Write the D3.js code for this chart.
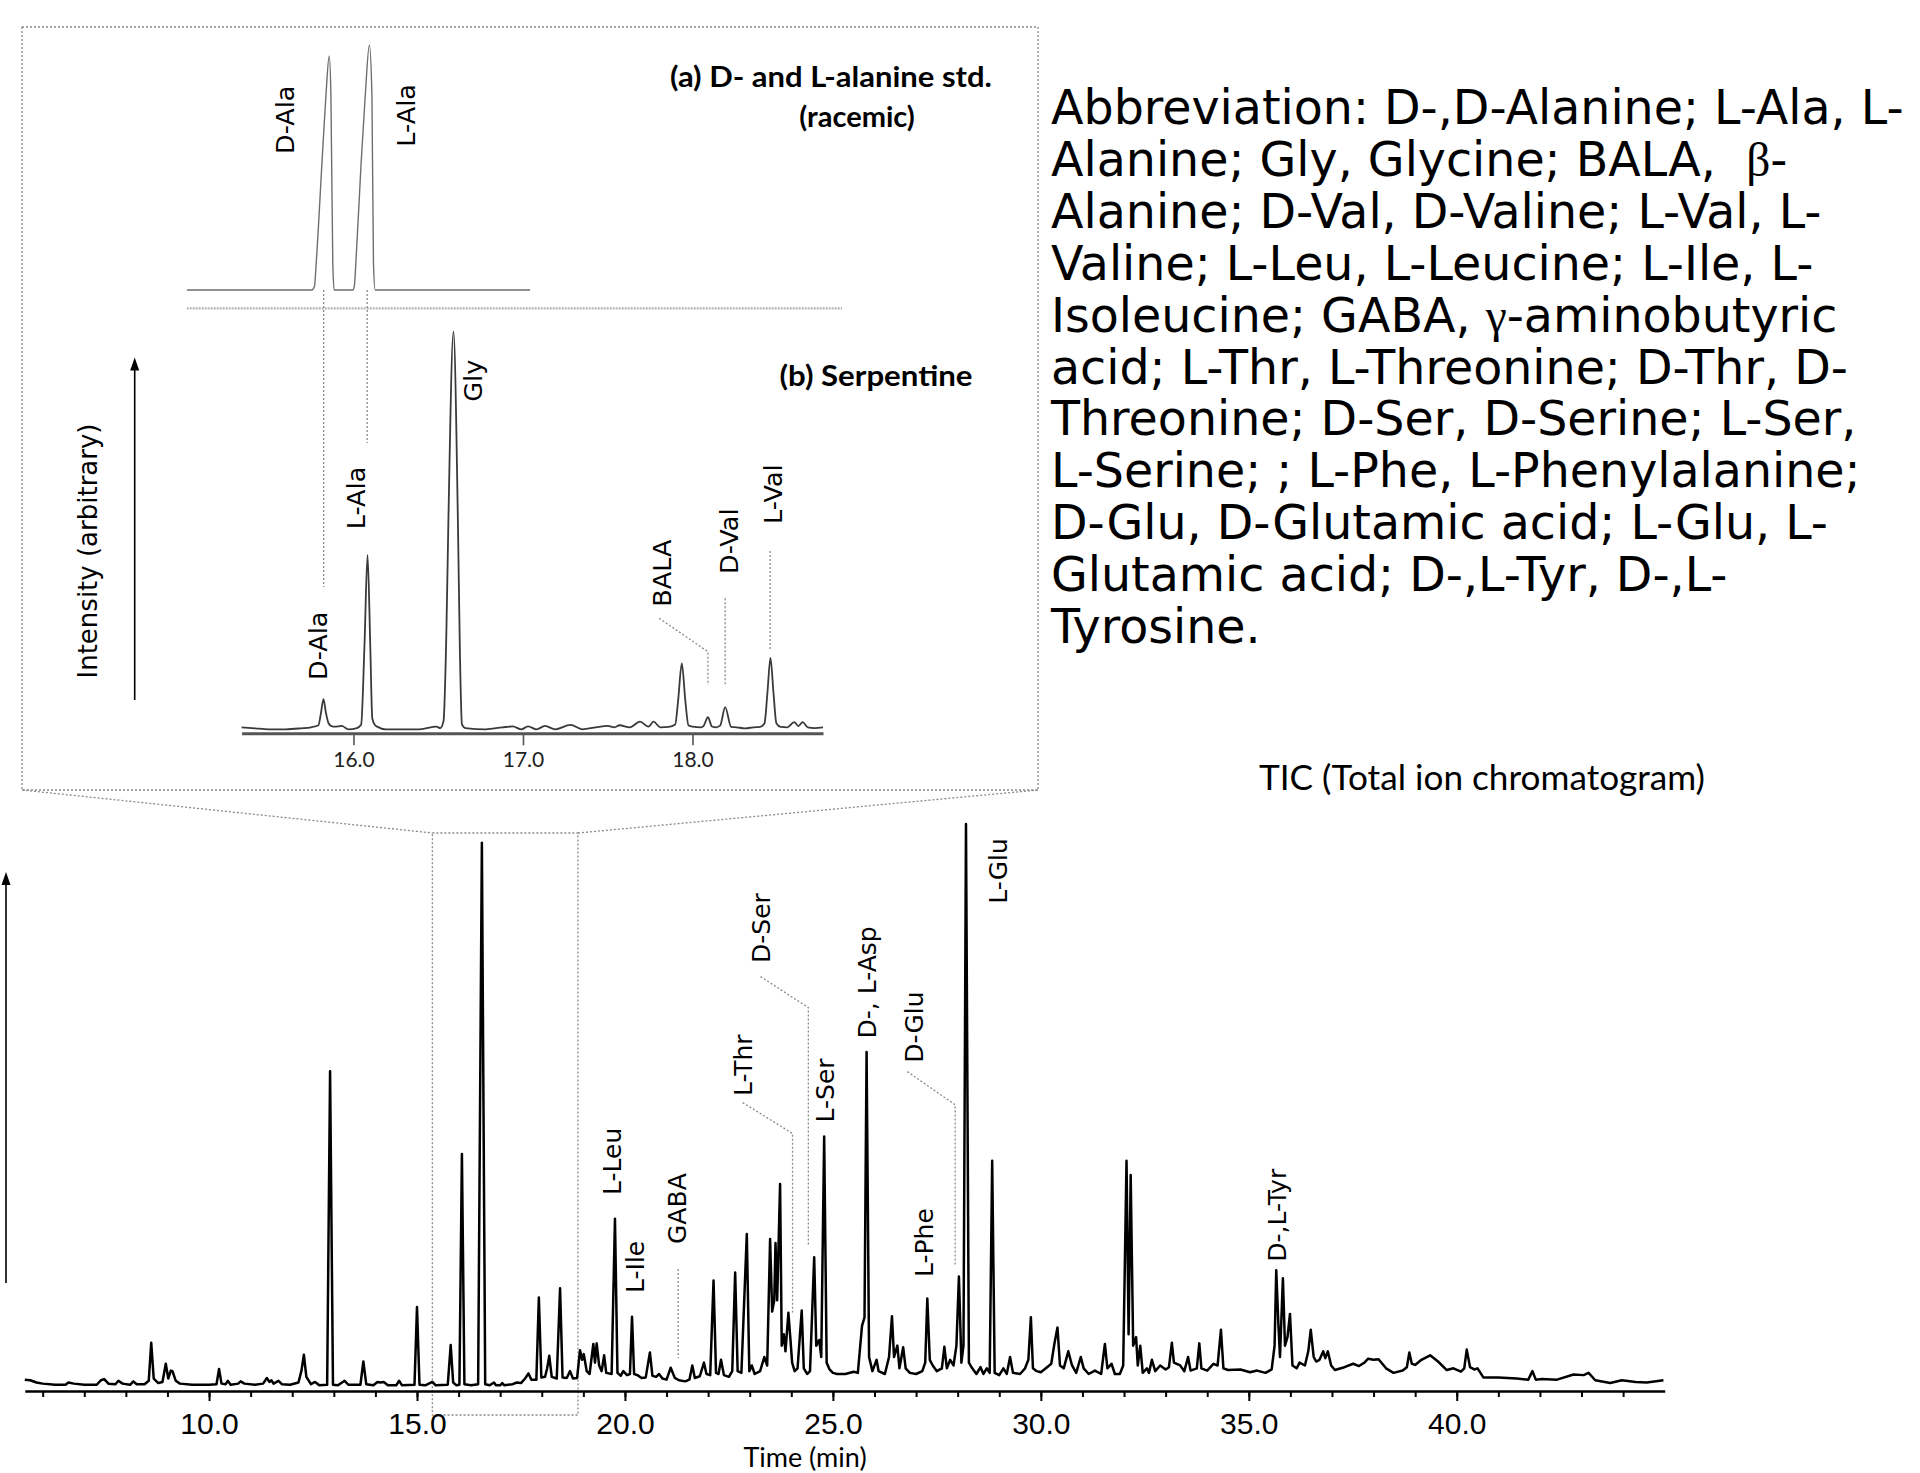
<!DOCTYPE html>
<html>
<head>
<meta charset="utf-8">
<script src="https://cdn.jsdelivr.net/npm/d3@7"></script>
<style>
  body { margin: 0; background: #fff; }
  svg { display: block; }
</style>
</head>
<body>
<script>
// ---- data ----
// TIC trace, [time (min), intensity (% of L-Glu peak)]
const ticTrace = [
  [5.57,2.0],[5.7,1.9],[5.85,1.5],[6.0,1.3],[6.3,1.1],[6.55,1.1],[6.62,1.5],[6.75,1.3],[7.0,1.1],[7.3,1.1],
  [7.4,1.9],[7.48,2.1],[7.58,1.3],[7.75,1.2],[7.82,1.8],[7.92,1.3],[8.1,1.1],[8.18,1.7],[8.26,1.2],[8.45,1.2],
  [8.55,1.8],[8.61,8.5],[8.67,2.2],[8.78,1.4],[8.88,1.6],[8.96,4.8],[9.02,2.2],[9.08,3.6],[9.12,3.5],[9.2,1.8],
  [9.3,1.3],[9.6,1.1],[10.0,1.1],[10.18,1.2],[10.24,3.9],[10.3,1.3],[10.4,1.2],[10.45,1.8],[10.52,1.1],[10.7,1.3],
  [10.76,1.7],[10.85,1.3],[11.1,1.1],[11.3,1.3],[11.39,2.3],[11.45,1.6],[11.5,1.9],[11.55,1.3],[11.67,1.8],[11.75,1.2],
  [11.95,1.1],[12.15,1.5],[12.22,3.5],[12.28,6.4],[12.34,2.5],[12.45,1.2],[12.55,1.6],[12.65,1.0],[12.84,1.1],[12.91,56.4],
  [12.98,1.1],[13.1,1.0],[13.26,1.8],[13.35,1.1],[13.64,1.1],[13.71,5.2],[13.78,1.2],[13.95,1.0],[14.05,1.6],[14.12,1.5],
  [14.2,1.6],[14.3,1.0],[14.5,1.0],[14.57,1.8],[14.64,1.0],[14.94,1.1],[15.0,14.8],[15.06,1.1],[15.2,1.0],[15.37,1.6],
  [15.45,1.0],[15.74,1.1],[15.81,8.1],[15.87,1.5],[15.95,1.0],[16.02,1.1],[16.08,41.8],[16.14,1.2],[16.3,1.0],[16.47,1.2],
  [16.56,96.7],[16.64,1.2],[16.75,1.0],[16.85,1.5],[16.9,1.0],[17.0,1.0],[17.05,1.4],[17.1,1.0],[17.3,1.2],[17.4,1.5],
  [17.5,1.4],[17.6,2.2],[17.68,3.1],[17.75,2.0],[17.87,2.0],[17.93,16.5],[17.99,2.4],[18.08,2.5],[18.13,4.0],[18.18,6.2],
  [18.24,2.5],[18.36,2.2],[18.44,18.1],[18.5,2.4],[18.6,2.3],[18.68,3.5],[18.75,2.2],[18.85,2.3],[18.92,7.2],[18.97,5.5],
  [19.01,6.5],[19.08,3.5],[19.15,3.0],[19.24,8.3],[19.28,5.0],[19.32,8.4],[19.38,4.5],[19.44,3.5],[19.5,6.3],[19.55,3.2],
  [19.68,3.0],[19.76,30.4],[19.82,3.2],[19.9,2.7],[19.96,3.5],[20.05,2.8],[20.12,3.0],[20.17,13.1],[20.22,3.0],[20.3,2.8],
  [20.4,2.3],[20.5,2.4],[20.6,6.8],[20.66,2.7],[20.75,2.5],[20.82,3.0],[20.9,2.2],[21.0,2.0],[21.1,4.1],[21.2,2.3],
  [21.3,1.9],[21.45,1.7],[21.55,2.0],[21.62,4.5],[21.68,2.3],[21.8,2.6],[21.9,5.0],[21.96,3.0],[22.05,2.8],[22.13,19.5],
  [22.19,3.2],[22.25,3.0],[22.31,5.5],[22.38,2.8],[22.5,2.5],[22.58,3.5],[22.65,20.9],[22.71,3.5],[22.8,3.2],[22.93,27.7],
  [22.99,3.5],[23.05,4.5],[23.12,3.0],[23.25,3.5],[23.35,6.0],[23.42,4.5],[23.49,26.8],[23.54,14],[23.59,16],[23.62,26.1],
  [23.66,16],[23.73,36.5],[23.77,8],[23.82,10],[23.86,7],[23.93,13.8],[23.98,9],[24.02,5],[24.08,3.5],[24.15,4],
  [24.25,14.2],[24.3,4],[24.38,3],[24.45,3.5],[24.55,23.6],[24.6,8],[24.67,9],[24.72,6],[24.79,44.9],[24.85,5],
  [24.92,3.8],[25.0,3.2],[25.1,3.0],[25.3,3.0],[25.5,3.4],[25.6,3.2],[25.7,11.5],[25.76,13],[25.81,59.8],[25.87,6],
  [25.95,3.5],[26.05,5.5],[26.1,3.5],[26.25,3.0],[26.35,6],[26.42,13.2],[26.47,6],[26.55,8],[26.6,4],[26.69,7.7],
  [26.75,4],[26.85,3.2],[27.0,3.0],[27.15,3.5],[27.22,5],[27.27,16.3],[27.33,5.5],[27.4,4.5],[27.5,3.5],[27.62,4],
  [27.68,7.8],[27.74,4],[27.82,5.5],[27.9,4.5],[27.97,8],[28.03,20.2],[28.09,5],[28.14,8],[28.2,100],[28.27,5],
  [28.35,4],[28.45,3.0],[28.55,4.2],[28.62,3],[28.7,4],[28.77,3.2],[28.83,40.6],[28.89,3.2],[29.0,2.8],[29.1,4.0],
  [29.18,3.0],[29.26,6.0],[29.33,3.2],[29.5,3.0],[29.62,4.0],[29.7,5.5],[29.76,13.0],[29.81,4.0],[29.9,3.5],[30.0,3.3],
  [30.15,4.2],[30.25,4.8],[30.33,8.5],[30.4,11.2],[30.46,4.5],[30.55,4.0],[30.66,7.0],[30.75,4.5],[30.85,3.2],[30.96,6.0],
  [31.03,4.0],[31.15,3.0],[31.3,3.6],[31.45,3.0],[31.54,8.3],[31.6,4.0],[31.7,4.8],[31.78,3.0],[31.9,3.0],[31.98,4.5],
  [32.06,40.6],[32.11,10],[32.16,38.1],[32.22,8],[32.29,9.5],[32.33,4.5],[32.39,8.0],[32.45,3.2],[32.55,4.0],[32.6,3.2],
  [32.67,5.5],[32.75,3.5],[32.87,4.5],[33.0,3.8],[33.08,4.2],[33.15,8.5],[33.2,5.0],[33.35,4.5],[33.45,3.5],[33.54,6.0],
  [33.6,3.6],[33.75,4.0],[33.81,8.4],[33.86,4.0],[34.0,3.6],[34.15,4.8],[34.25,4.5],[34.33,10.8],[34.39,4.0],[34.5,3.7],
  [34.8,3.8],[35.03,3.3],[35.2,3.6],[35.4,3.2],[35.55,3.8],[35.62,8],[35.66,21.3],[35.71,12],[35.75,6],[35.82,19.9],
  [35.87,8],[35.93,9.5],[35.99,13.6],[36.05,4.5],[36.15,4.0],[36.22,5.0],[36.35,4.5],[36.43,7.0],[36.49,10.8],[36.56,6.0],
  [36.62,5.2],[36.7,5.5],[36.79,7.0],[36.84,5.8],[36.9,7.0],[36.98,4.5],[37.07,3.7],[37.3,4.2],[37.51,4.8],[37.65,4.4],
  [37.78,5.0],[37.87,5.7],[38.0,5.5],[38.12,5.6],[38.3,4.0],[38.48,3.2],[38.7,3.6],[38.8,4.2],[38.86,6.8],[38.92,4.8],
  [39.0,4.6],[39.15,5.5],[39.36,6.3],[39.55,5.2],[39.76,3.7],[39.92,4.0],[40.1,3.4],[40.18,4.0],[40.24,7.3],[40.32,4.2],
  [40.42,3.8],[40.5,4.0],[40.64,2.4],[41.0,2.4],[41.44,2.2],[41.72,2.0],[41.82,3.5],[41.9,2.0],[42.05,2.1],[42.41,2.0],
  [42.81,2.9],[43.05,2.8],[43.17,3.2],[43.33,1.9],[43.69,1.4],[43.97,1.9],[44.3,1.6],[44.57,1.5],[44.97,1.9]
];

// inset (b) serpentine trace, [time, intensity (% of Gly)]
const serpTrace = [
  [15.34,1.5],[15.42,1.24],[15.5,1.0],[15.6,1.0],[15.69,1.24],[15.75,1.5],[15.793,2.0],[15.808,5],[15.823,8.5],[15.838,5],
  [15.853,2.5],[15.87,1.8],[15.89,1.66],[15.93,1.83],[15.97,1.0],[16.02,1.3],[16.045,2.1],[16.065,22],[16.083,44.4],[16.099,22],
  [16.111,3.7],[16.128,2.0],[16.14,1.66],[16.19,1.0],[16.29,1.0],[16.39,1.0],[16.49,1.66],[16.512,1.3],[16.531,3],[16.548,25],
  [16.56,53],[16.59,100],[16.616,53],[16.628,20],[16.64,2.2],[16.66,1.3],[16.78,1.0],[16.88,1.5],[16.94,1.7],[16.99,1.0],
  [17.03,1.7],[17.08,1.0],[17.13,1.83],[17.19,1.0],[17.28,2.1],[17.35,1.0],[17.43,1.5],[17.5,1.83],[17.54,1.5],[17.57,2.0],
  [17.63,1.5],[17.69,2.9],[17.74,1.66],[17.77,2.9],[17.81,1.5],[17.86,1.6],[17.898,2.2],[17.915,8],[17.937,17.4],[17.958,8],
  [17.976,2.0],[18.0,1.66],[18.05,1.5],[18.065,1.8],[18.091,4.0],[18.115,1.7],[18.14,1.5],[18.163,1.9],[18.193,6.5],[18.228,1.6],
  [18.26,1.5],[18.31,1.24],[18.36,1.5],[18.4,1.6],[18.425,2.5],[18.442,10],[18.46,18.8],[18.478,10],[18.495,2.5],[18.52,1.6],
  [18.56,1.5],[18.6,2.8],[18.625,1.8],[18.65,2.8],[18.68,1.5],[18.72,1.3],[18.77,1.5]
];

// inset (a) racemic alanine standard, [time, intensity (% of L-Ala)]
const stdTrace = [
  [15.017,0],[15.755,0],[15.77,1.5],[15.78,10.9],[15.814,51.7],[15.837,78.9],[15.857,95.5],[15.867,78.9],[15.878,10.9],[15.886,0],
  [15.996,0],[16.005,1.5],[16.014,10.9],[16.045,51.7],[16.069,78.9],[16.094,100],[16.109,78.9],[16.118,10.9],[16.128,0],[17.042,0]
];

const ticMajorTicks = [10, 15, 20, 25, 30, 35, 40];
const insetTicks = [16, 17, 18];
const zoomWindow = [15.37, 18.87];

// peak labels: name, time of label centre
const ticLabels = [
  ["L-Leu", 19.70], ["L-Ile", 20.24], ["GABA", 21.26], ["L-Thr", 22.83], ["D-Ser", 23.26],
  ["L-Ser", 24.81], ["D-, L-Asp", 25.82], ["D-Glu", 26.96], ["L-Phe", 27.19], ["L-Glu", 28.98], ["D-,L-Tyr", 35.68]
];
const serpLabels = [
  ["D-Ala", 15.788], ["L-Ala", 16.014], ["Gly", 16.702], ["BALA", 17.819], ["D-Val", 18.212], ["L-Val", 18.474]
];
const stdLabels = [["D-Ala", 15.595], ["L-Ala", 16.311]];

const abbrevLines = [
  "Abbreviation: D-,D-Alanine; L-Ala, L-",
  "Alanine; Gly, Glycine; BALA,\u00a0 \u03b2-",
  "Alanine; D-Val, D-Valine; L-Val, L-",
  "Valine; L-Leu, L-Leucine; L-Ile, L-",
  "Isoleucine; GABA, \u03b3-aminobutyric",
  "acid; L-Thr, L-Threonine; D-Thr, D-",
  "Threonine; D-Ser, D-Serine; L-Ser,",
  "L-Serine; ; L-Phe, L-Phenylalanine;",
  "D-Glu, D-Glutamic acid; L-Glu, L-",
  "Glutamic acid; D-,L-Tyr, D-,L-",
  "Tyrosine."
];

// ---- layout ----
const W = 1920, H = 1473;
const svg = d3.select("body").append("svg").attr("width", W).attr("height", H);
svg.append("rect").attr("width", W).attr("height", H).attr("fill", "#fff");

const x = d3.scaleLinear().domain([5.57, 45.0]).range([24.8, 1664.7]);
const y = d3.scaleLinear().domain([0, 100]).range([1391, 824]);
const xi = d3.scaleLinear().domain([15.34, 18.77]).range([241.6, 823.0]);
const yi = d3.scaleLinear().domain([0, 100]).range([733.3, 331.7]);
const ya = d3.scaleLinear().domain([0, 100]).range([290, 45]);

const dotted = g => g.attr("fill", "none").attr("stroke", "#8a8a8a").attr("stroke-width", 1.3).attr("stroke-dasharray", "2,2");

function vlabel(g, cx, yStart, txt, size) {
  g.append("text")
    .attr("transform", `translate(${cx},${yStart}) rotate(-90)`)
    .attr("dy", "0.36em")
    .attr("font-family", "DejaVu Sans")
    .attr("font-size", size)
    .attr("fill", "#000")
    .text(txt);
}
function arrow(g, ax, y0, y1) {
  g.append("line").attr("x1", ax).attr("x2", ax).attr("y1", y0).attr("y2", y1 + 4)
    .attr("stroke", "#000").attr("stroke-width", 1.6);
  g.append("path").attr("d", `M${ax - 4.5},${y1 + 13} L${ax},${y1} L${ax + 4.5},${y1 + 13} Z`).attr("fill", "#000");
}

// ---- inset frame and zoom connectors ----
const frame = svg.append("g");
frame.append("rect").attr("x", 22).attr("y", 27).attr("width", 1016).attr("height", 763).call(dotted);
frame.append("rect").attr("x", x(zoomWindow[0])).attr("y", 833)
  .attr("width", x(zoomWindow[1]) - x(zoomWindow[0])).attr("height", 582).call(dotted);
frame.append("line").attr("x1", 22).attr("y1", 790).attr("x2", x(zoomWindow[0])).attr("y2", 833).call(dotted);
frame.append("line").attr("x1", 1038).attr("y1", 790).attr("x2", x(zoomWindow[1])).attr("y2", 833).call(dotted);

// ---- inset (a) standard ----
const ga = svg.append("g");
ga.append("line").attr("x1", 186.7).attr("x2", 842).attr("y1", 308.3).attr("y2", 308.3)
  .attr("stroke", "#b5b5b5").attr("stroke-width", 2.2).attr("stroke-dasharray", "2,1");
ga.append("path").datum(stdTrace)
  .attr("d", d3.line().x(d => xi(d[0])).y(d => ya(d[1])).curve(d3.curveMonotoneX))
  .attr("fill", "none").attr("stroke", "#6e6e6e").attr("stroke-width", 1.4);
stdLabels.forEach(d => vlabel(ga, xi(d[1]), d[0] === "D-Ala" ? 154 : 146.7, d[0], 25.5));
// leaders from the standard down into (b)
ga.append("line").attr("x1", xi(15.824)).attr("x2", xi(15.824)).attr("y1", 290).attr("y2", 587).call(dotted);
ga.append("line").attr("x1", xi(16.081)).attr("x2", xi(16.081)).attr("y1", 290).attr("y2", 443).call(dotted);
ga.append("text").attr("x", 831).attr("y", 87).attr("text-anchor", "middle")
  .attr("font-family", "Lato").attr("font-weight", "bold").attr("font-size", 29)
  .attr("textLength", 322).attr("lengthAdjust", "spacingAndGlyphs")
  .text("(a) D- and L-alanine std.");
ga.append("text").attr("x", 857).attr("y", 127).attr("text-anchor", "middle")
  .attr("font-family", "Lato").attr("font-weight", "bold").attr("font-size", 29)
  .text("(racemic)");

// ---- inset (b) serpentine ----
const gb = svg.append("g");
gb.append("g").attr("transform", "translate(0,733.3)")
  .call(d3.axisBottom(xi).tickValues(insetTicks).tickSize(12).tickSizeOuter(0).tickPadding(7).tickFormat(d3.format(".1f")))
  .call(g => g.select(".domain").attr("stroke", "#555").attr("stroke-width", 3))
  .call(g => g.selectAll(".tick line").attr("stroke", "#555").attr("stroke-width", 1.6))
  .call(g => g.selectAll("text").attr("font-family", "Lato").attr("font-size", 21).attr("fill", "#222"));
gb.append("path").datum(serpTrace)
  .attr("d", d3.line().x(d => xi(d[0])).y(d => yi(d[1])).curve(d3.curveMonotoneX))
  .attr("fill", "none").attr("stroke", "#3a3a3a").attr("stroke-width", 1.8);
const serpStart = { "D-Ala": 680, "L-Ala": 529.3, "Gly": 401.7, "BALA": 606.7, "D-Val": 574, "L-Val": 524 };
serpLabels.forEach(d => vlabel(gb, xi(d[1]), serpStart[d[0]], d[0], 25.5));
gb.append("path").attr("d", `M${xi(17.804)},618.3 L${xi(18.091)},651.7 L${xi(18.091)},685`).call(dotted);
gb.append("line").attr("x1", xi(18.193)).attr("x2", xi(18.193)).attr("y1", 598.3).attr("y2", 685).call(dotted);
gb.append("line").attr("x1", xi(18.458)).attr("x2", xi(18.458)).attr("y1", 551).attr("y2", 649).call(dotted);
gb.append("text").attr("x", 876).attr("y", 386).attr("text-anchor", "middle")
  .attr("font-family", "Lato").attr("font-weight", "bold").attr("font-size", 29)
  .attr("textLength", 193).attr("lengthAdjust", "spacingAndGlyphs")
  .text("(b) Serpentine");
arrow(gb, 134.7, 700, 357.6);
gb.append("text").attr("transform", "translate(88,551) rotate(-90)").attr("dy", "0.36em")
  .attr("text-anchor", "middle").attr("font-family", "DejaVu Sans").attr("font-size", 26)
  .text("Intensity (arbitrary)");

// ---- main TIC ----
const gm = svg.append("g");
gm.append("g").attr("transform", "translate(0,1391)")
  .call(d3.axisBottom(x).tickValues(d3.range(6, 45)).tickSize(6).tickSizeOuter(0).tickFormat(""))
  .call(g => g.select(".domain").attr("stroke", "#000").attr("stroke-width", 2.6))
  .call(g => g.selectAll(".tick line").attr("stroke", "#000").attr("stroke-width", 2));
gm.append("g").attr("transform", "translate(0,1391)")
  .call(d3.axisBottom(x).tickValues(ticMajorTicks).tickSize(10).tickSizeOuter(0).tickPadding(12).tickFormat(d3.format(".1f")))
  .call(g => g.select(".domain").remove())
  .call(g => g.selectAll(".tick line").attr("stroke", "#000").attr("stroke-width", 2))
  .call(g => g.selectAll("text").attr("font-family", "Liberation Sans").attr("font-size", 30).attr("fill", "#000"));
gm.append("path").datum(ticTrace)
  .attr("d", d3.line().x(d => x(d[0])).y(d => y(d[1])))
  .attr("fill", "none").attr("stroke", "#000").attr("stroke-width", 2.5).attr("stroke-linejoin", "round");

const ticStart = {
  "L-Leu": 1195, "L-Ile": 1293, "GABA": 1244, "L-Thr": 1096, "D-Ser": 963, "L-Ser": 1122.5,
  "D-, L-Asp": 1038.5, "D-Glu": 1062.8, "L-Phe": 1277, "L-Glu": 903.7, "D-,L-Tyr": 1261.7
};
ticLabels.forEach(d => vlabel(gm, x(d[1]), ticStart[d[0]], d[0], 25));
gm.append("line").attr("x1", x(21.28)).attr("x2", x(21.28)).attr("y1", 1269).attr("y2", 1358).call(dotted);
gm.append("path").attr("d", `M${x(22.83)},1102.6 L${x(24.03)},1133.5 L${x(24.03)},1312.5`).call(dotted);
gm.append("path").attr("d", `M${x(23.26)},976.6 L${x(24.41)},1007.6 L${x(24.41)},1246`).call(dotted);
gm.append("path").attr("d", `M${x(26.79)},1071.6 L${x(27.94)},1104.8 L${x(27.94)},1266`).call(dotted);
arrow(gm, 6, 1283, 872);

gm.append("text").attr("x", 805).attr("y", 1467).attr("text-anchor", "middle")
  .attr("font-family", "Lato").attr("font-size", 27).text("Time (min)");
gm.append("text").attr("x", 1482).attr("y", 790).attr("text-anchor", "middle")
  .attr("font-family", "Lato").attr("font-size", 34)
  .attr("textLength", 446).attr("lengthAdjust", "spacingAndGlyphs")
  .text("TIC (Total ion chromatogram)");

// ---- abbreviation block ----
const gt = svg.append("g").attr("font-family", "DejaVu Sans").attr("font-size", 47.5).attr("fill", "#000");
abbrevLines.forEach((line, i) => {
  const t = gt.append("text").attr("x", 1051).attr("y", 124 + i * 51.9);
  line.split(/([\u03b2\u03b3])/).forEach(part => {
    if (!part) return;
    const sp = t.append("tspan").text(part);
    if (/[\u03b2\u03b3]/.test(part)) sp.attr("font-family", "Liberation Serif");
  });
});
</script>
</body>
</html>
